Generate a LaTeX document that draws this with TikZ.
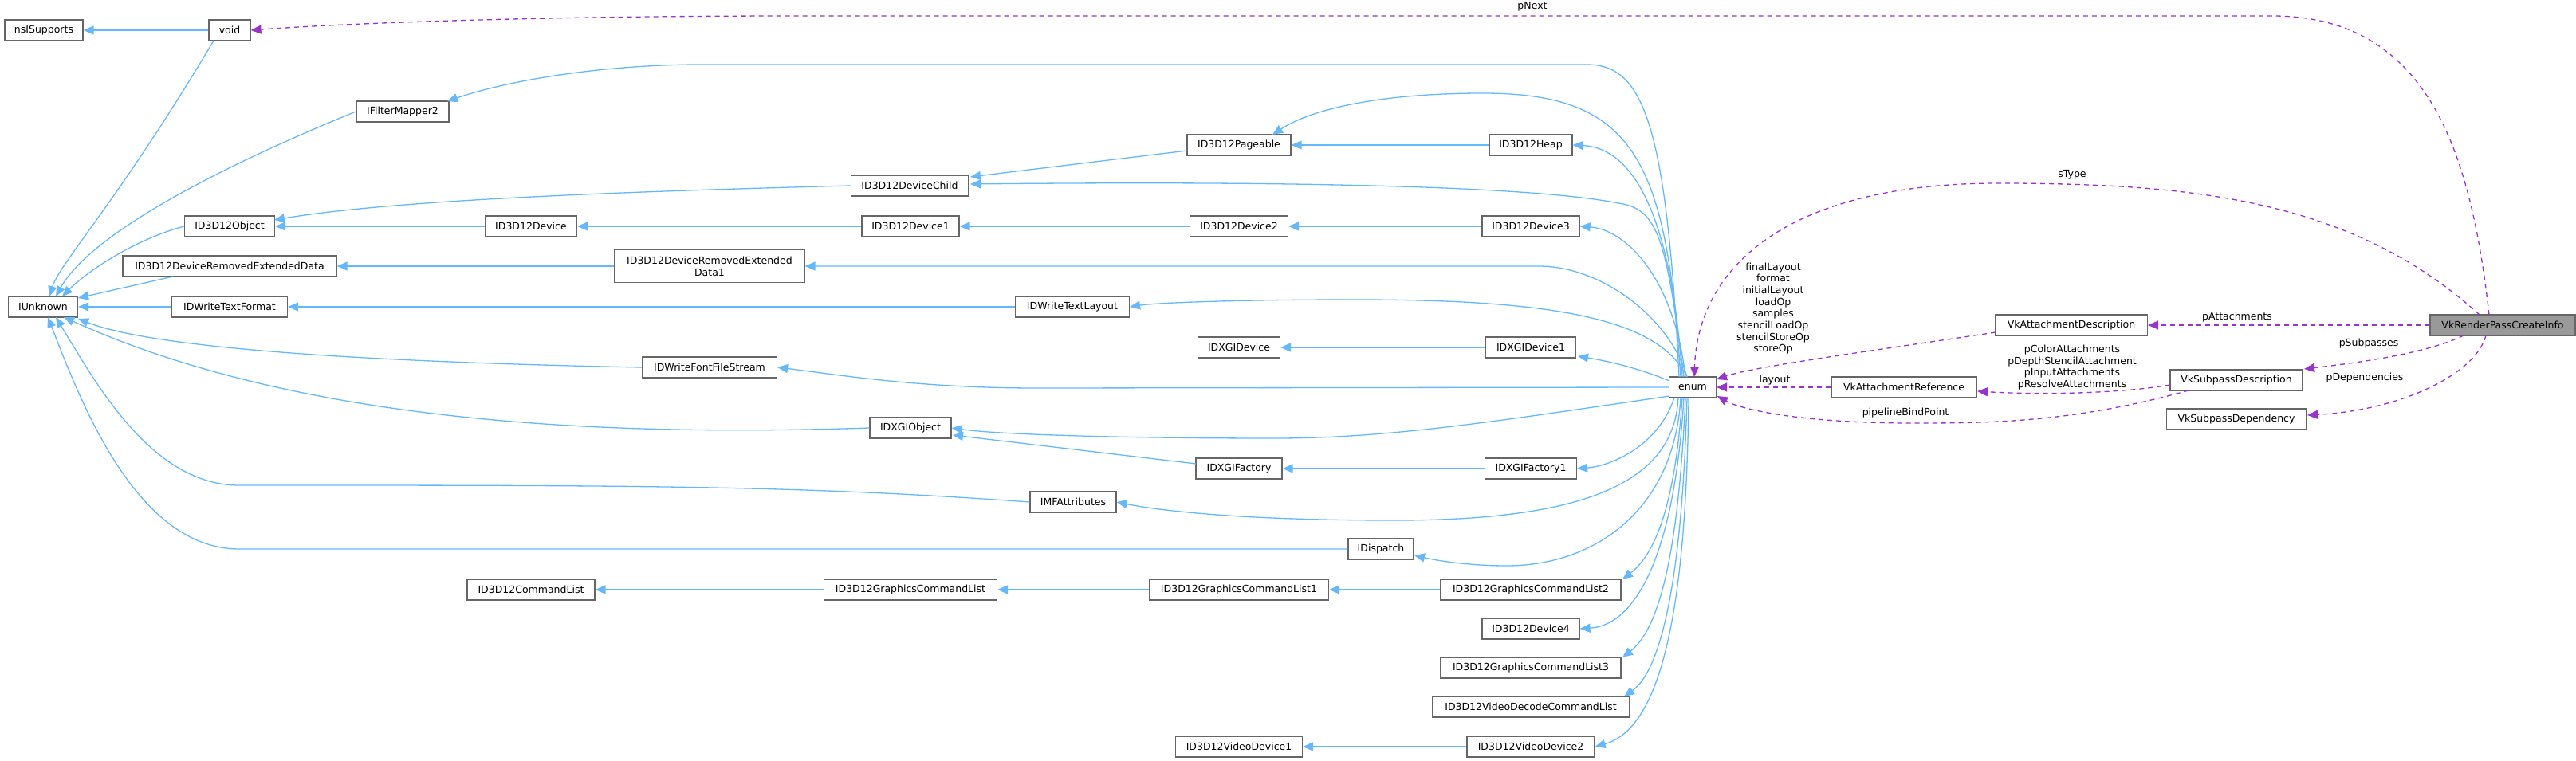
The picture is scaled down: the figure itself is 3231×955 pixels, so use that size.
\documentclass[tikz,border=0pt]{standalone}
\usepackage{fontspec}
\setmainfont{DejaVu Sans}
\usetikzlibrary{arrows.meta}
\definecolor{eblue}{HTML}{63B8FF}
\definecolor{epurp}{HTML}{9A32CD}
\definecolor{bgray}{HTML}{666666}
\begin{document}
\begin{tikzpicture}[x={(1pt,0)},y={(0,-1pt)},
  font=\fontsize{12.5}{14.7}\selectfont,
  box/.style={draw=bgray,line width=1.2pt,fill=white,minimum height=26pt,inner sep=2pt,align=center},
  inh/.style={draw=eblue,line width=1.3pt,-{Triangle[length=13pt,width=11pt]}},
  use/.style={draw=epurp,line width=1.3pt,dash pattern=on 6pt off 5pt,-{Triangle[length=13pt,width=11pt]}},
  lab/.style={font=\fontsize{12.5}{14.7}\selectfont,align=center,inner sep=0pt}]
\useasboundingbox (0,0) rectangle (3231,955);
% nodes
\node[box,minimum width=98pt] (nsis) at (55,38) {nsISupports};
\node[box,minimum width=52pt] (void) at (288,38) {void};
\node[box,minimum width=116pt] (fm2) at (505,140) {IFilterMapper2};
\node[box,minimum width=87pt] (iunk) at (54,385) {IUnknown};
\node[box,minimum width=113pt] (obj) at (288,284) {ID3D12Object};
\node[box,minimum width=115pt] (dev) at (666,284) {ID3D12Device};
\node[box,minimum width=268pt] (dred) at (288,334) {ID3D12DeviceRemovedExtendedData};
\node[box,minimum width=238pt,minimum height=41pt] (dred1) at (890,334) {ID3D12DeviceRemovedExtended\\Data1};
\node[box,minimum width=145pt] (dwtf) at (288,385) {IDWriteTextFormat};
\node[box,minimum width=169pt] (dwffs) at (890,461) {IDWriteFontFileStream};
\node[box,minimum width=147pt] (child) at (1141,233) {ID3D12DeviceChild};
\node[box,minimum width=122pt] (dev1) at (1142,284) {ID3D12Device1};
\node[box,minimum width=143pt] (dwtl) at (1345,385) {IDWriteTextLayout};
\node[box,minimum width=102pt] (dxobj) at (1142,537) {IDXGIObject};
\node[box,minimum width=108pt] (mfa) at (1346,630) {IMFAttributes};
\node[box,minimum width=217pt] (gcl) at (1142,740) {ID3D12GraphicsCommandList};
\node[box,minimum width=160pt] (cl) at (666,740) {ID3D12CommandList};
\node[box,minimum width=130pt] (pag) at (1554,182) {ID3D12Pageable};
\node[box,minimum width=123pt] (dev2) at (1554,284) {ID3D12Device2};
\node[box,minimum width=103pt] (dxdev) at (1554,436) {IDXGIDevice};
\node[box,minimum width=108pt] (dxfac) at (1554,588) {IDXGIFactory};
\node[box,minimum width=225pt] (gcl1) at (1554,740) {ID3D12GraphicsCommandList1};
\node[box,minimum width=159pt] (vd1) at (1554,937) {ID3D12VideoDevice1};
\node[box,minimum width=104pt] (heap) at (1920,182) {ID3D12Heap};
\node[box,minimum width=122pt] (dev3) at (1920,284) {ID3D12Device3};
\node[box,minimum width=113pt] (dxdev1) at (1920,436) {IDXGIDevice1};
\node[box,minimum width=115pt] (dxfac1) at (1920,588) {IDXGIFactory1};
\node[box,minimum width=82pt] (disp) at (1732,689) {IDispatch};
\node[box,minimum width=226pt] (gcl2) at (1920,740) {ID3D12GraphicsCommandList2};
\node[box,minimum width=122pt] (dev4) at (1920,789) {ID3D12Device4};
\node[box,minimum width=226pt] (gcl3) at (1920,838) {ID3D12GraphicsCommandList3};
\node[box,minimum width=247pt] (vdcl) at (1920,887) {ID3D12VideoDecodeCommandList};
\node[box,minimum width=160pt] (vd2) at (1920,937) {ID3D12VideoDevice2};
\node[box,minimum width=59pt] (enum) at (2123,486) {enum};
\node[box,minimum width=191pt] (vad) at (2598,408) {VkAttachmentDescription};
\node[box,minimum width=182pt,fill={rgb,255:red,153;green,153;blue,153}] (rpci) at (3139,408) {VkRenderPassCreateInfo};
\node[box,minimum width=182pt] (var) at (2388,486) {VkAttachmentReference};
\node[box,minimum width=166pt] (vsd) at (2805,477) {VkSubpassDescription};
\node[box,minimum width=175pt] (vsdep) at (2805,526) {VkSubpassDependency};
% helper coordinates
\coordinate (et1) at (2106,473);\coordinate (et2) at (2108,473);\coordinate (et3) at (2110,473);
\coordinate (et4) at (2112,473);\coordinate (et5) at (2114,473);\coordinate (et6) at (2116,473);
\coordinate (et7) at (2125,473);
\coordinate (eb1) at (2094,497);\coordinate (eb2) at (2100,499);\coordinate (eb3) at (2105,499);
\coordinate (eb4) at (2108,499);\coordinate (eb5) at (2110,499);\coordinate (eb6) at (2112,499);
\coordinate (eb7) at (2114,499);\coordinate (eb8) at (2116,499);\coordinate (eb9) at (2118,499);
% blue edges, left part
\draw[inh] (void) -- (nsis);
\draw[inh] (268,51) .. controls (150,250) and (75,330) .. (62,372);
\draw[inh] (fm2.west) .. controls (250,220) and (110,300) .. (70,372);
\draw[inh] (obj.west) .. controls (170,300) and (110,340) .. (78,372);
\draw[inh] (217,347) -- (98,374);
\draw[inh] (dwtf) -- (iunk);
\draw[inh] (dwffs.west) .. controls (500,455) and (200,440) .. (98,400);
\draw[inh] (dxobj.west) .. controls (700,550) and (350,520) .. (80,398);
\draw[inh] (mfa.west) .. controls (1000,609) and (800,609) .. (300,609) .. controls (190,609) and (120,480) .. (70,398);
\draw[inh] (disp.west) -- (300,689) .. controls (170,689) and (100,500) .. (60,398);
\draw[inh] (child.west) .. controls (800,240) and (500,250) .. (344,276);
\draw[inh] (dev) -- (obj);
\draw[inh] (dev1) -- (dev);
\draw[inh] (dred1) -- (dred);
\draw[inh] (dwtl) -- (dwtf);
\draw[inh] (1489,189) -- (1217,222);
\draw[inh] (heap) -- (pag);
\draw[inh] (dev2) -- (dev1);
\draw[inh] (dev3) -- (dev2);
\draw[inh] (dxdev1) -- (dxdev);
\draw[inh] (1500,582) -- (1195,546);
\draw[inh] (dxfac1) -- (dxfac);
\draw[inh] (gcl) -- (cl);
\draw[inh] (gcl1) -- (gcl);
\draw[inh] (gcl2) -- (gcl1);
\draw[inh] (vd2) -- (vd1);
% blue edges from enum
\draw[inh] (et1) .. controls (2090,150) and (2060,81) .. (1990,81) -- (880,81) .. controls (760,81) and (640,100) .. (561,127);
\draw[inh] (et2) .. controls (2090,200) and (2050,117) .. (1860,117) .. controls (1720,117) and (1640,140) .. (1596,169);
\draw[inh] (et3) .. controls (2095,250) and (2040,185) .. (heap.east);
\draw[inh] (et4) .. controls (2090,300) and (2080,262) .. (2030,255) .. controls (1900,229) and (1500,228) .. (1217,231);
\draw[inh] (et5) .. controls (2100,350) and (2040,288) .. (dev3.east);
\draw[inh] (et6) .. controls (2095,400) and (2010,334) .. (1930,334) -- (dred1.east);
\draw[inh] (et6) .. controls (2080,400) and (1950,376) .. (1700,376) .. controls (1550,376) and (1450,380) .. (dwtl.east);
\draw[inh] (2094,478) .. controls (2050,460) and (2010,452) .. (1979,447);
\draw[inh] (enum.west) -- (1300,487) .. controls (1150,487) and (1050,470) .. (dwffs.east);
\draw[inh] (eb1) .. controls (1900,525) and (1750,550) .. (1600,550) .. controls (1400,550) and (1250,545) .. (dxobj.east);
\draw[inh] (eb2) .. controls (2080,560) and (2020,585) .. (dxfac1.east);
\draw[inh] (eb3) .. controls (2100,600) and (2000,653) .. (1750,653) .. controls (1550,653) and (1450,640) .. (mfa.east);
\draw[inh] (eb4) .. controls (2100,640) and (2000,710) .. (1890,710) .. controls (1840,710) and (1800,703) .. (1774,697);
\draw[inh] (eb5) .. controls (2100,650) and (2070,700) .. (2035,727);
\draw[inh] (eb6) .. controls (2100,700) and (2050,785) .. (dev4.east);
\draw[inh] (eb7) .. controls (2105,700) and (2080,790) .. (2035,825);
\draw[inh] (eb8) .. controls (2110,720) and (2085,840) .. (2037,874);
\draw[inh] (eb9) .. controls (2115,780) and (2080,915) .. (vd2.east);
% purple edges
\draw[use] (3122,395) .. controls (3100,200) and (3050,20) .. (2850,20) -- (1000,20) .. controls (700,20) and (450,28) .. (void.east);
\node[lab] (lnext) at (1922,8) {pNext};
\draw[use] (3110,395) .. controls (2950,250) and (2750,230) .. (2505,230) .. controls (2250,230) and (2130,330) .. (et7);
\node[lab] (lstype) at (2599,219) {sType};
\draw[use] (rpci) -- (vad);
\node[lab] (latt) at (2806,398) {pAttachments};
\draw[use] (3090,421) .. controls (3040,445) and (2950,456) .. (2890,463);
\node[lab] (lsub) at (2971,431) {pSubpasses};
\draw[use] (3118,421) .. controls (3105,470) and (3010,515) .. (2894,521);
\node[lab] (ldep) at (2966,474) {pDependencies};
\draw[use] (2503,417) .. controls (2350,440) and (2200,460) .. (2153,476);
\node[lab] (lvad) at (2224,387) {finalLayout\\format\\initialLayout\\loadOp\\samples\\stencilLoadOp\\stencilStoreOp\\storeOp};
\draw[use] (var) -- (enum);
\node[lab] (llay) at (2226,477) {layout};
\draw[use] (2722,483) .. controls (2650,495) and (2550,495) .. (2480,491);
\node[lab] (lpc) at (2599,461) {pColorAttachments\\pDepthStencilAttachment\\pInputAttachments\\pResolveAttachments};
\draw[use] (2745,490) .. controls (2600,530) and (2500,531) .. (2400,531) .. controls (2250,531) and (2180,512) .. (2154,497);
\node[lab] (lpbp) at (2390,518) {pipelineBindPoint};
\end{tikzpicture}
\end{document}
